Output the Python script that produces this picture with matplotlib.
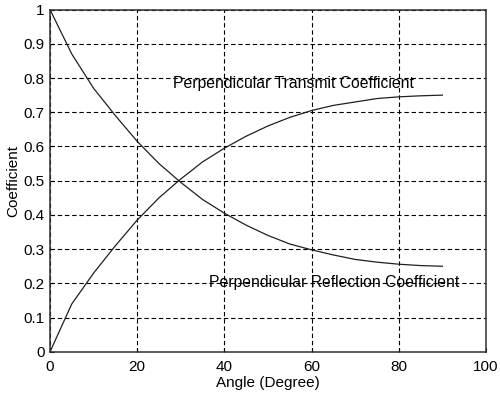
import numpy as np
import matplotlib
matplotlib.use('Agg')
from matplotlib import pyplot as plt

# angle samples (degree)
angle = [0, 5, 10, 15, 20, 25, 30, 35, 40, 45, 50, 55, 60, 65, 70, 75, 80, 85, 90]
transmit = [0, 0.14, 0.23, 0.31, 0.385, 0.45, 0.505, 0.555, 0.595, 0.63, 0.66,
            0.685, 0.705, 0.72, 0.73, 0.74, 0.745, 0.748, 0.75]
reflect = [1, 0.87, 0.77, 0.69, 0.615, 0.55, 0.495, 0.445, 0.405, 0.37, 0.34,
           0.315, 0.298, 0.283, 0.27, 0.262, 0.256, 0.252, 0.25]

xticks = [0, 20, 40, 60, 80, 100]
yticks = [0, 0.1, 0.2, 0.3, 0.4, 0.5, 0.6, 0.7, 0.8, 0.9, 1]
ytick_labels = ['0', '0.1', '0.2', '0.3', '0.4', '0.5', '0.6', '0.7', '0.8', '0.9', '1']

plt.rcParams['font.family'] = ['Liberation Sans', 'DejaVu Sans']

fig = plt.figure(figsize=(5, 3.98), dpi=100)
ax = fig.add_axes([0.1, 0.116, 0.872, 0.86])

ax.plot(angle, reflect, color='#202020', lw=0.9)
ax.plot(angle, transmit, color='#202020', lw=0.9)

ax.set_xlim(0, 100)
ax.set_ylim(0, 1)
ax.set_xticks(xticks)
ax.set_xticklabels([str(t) for t in xticks])
ax.set_yticks(yticks)
ax.set_yticklabels(ytick_labels)
ax.tick_params(direction='in', length=3, labelsize=11, colors='black')
ax.tick_params(axis='x', pad=6)
ax.tick_params(axis='y', pad=4)

ax.grid(True, color='black', linestyle=(0, (4, 2.5)), linewidth=0.8)
for s in ax.spines.values():
    s.set_color('#303030')
    s.set_linewidth(1.1)

ax.text(28.2, 0.785, 'Perpendicular Transmit Coefficient', fontsize=11.3, va='center')
ax.text(36.5, 0.204, 'Perpendicular Reflection Coefficient', fontsize=11.3, va='center')

ax.set_xlabel('Angle (Degree)', fontsize=11, labelpad=1)
ax.set_ylabel('Coefficient', fontsize=11, labelpad=2)

fig.savefig('out.png', dpi=100, facecolor='white')
